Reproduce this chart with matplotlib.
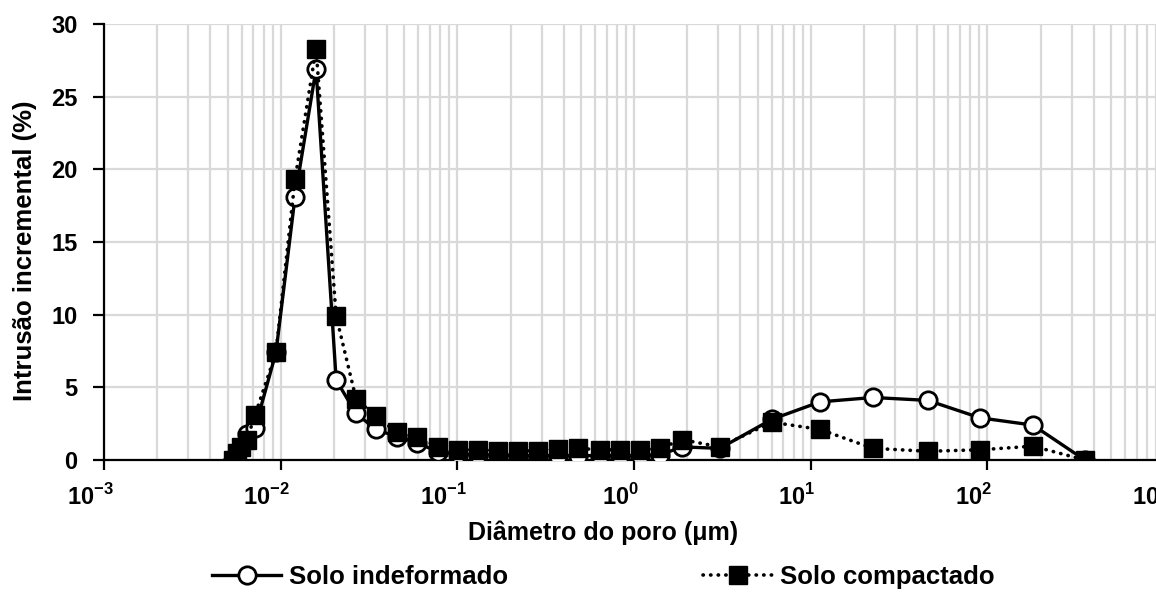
import numpy as np
import matplotlib
matplotlib.use("Agg")
import matplotlib.pyplot as plt
import matplotlib.transforms as mtransforms
from matplotlib.ticker import LogLocator, FixedLocator, NullFormatter

plt.rcParams['font.family'] = ['Liberation Sans', 'DejaVu Sans']
plt.rcParams['font.weight'] = 'bold'
plt.rcParams['mathtext.fontset'] = 'custom'
plt.rcParams['mathtext.rm'] = 'Liberation Sans:bold'
plt.rcParams['mathtext.bf'] = 'Liberation Sans:bold'

# pore diameter (um), same pressure steps for both samples
diametro = [0.00537, 0.00566, 0.00596, 0.00644, 0.00716, 0.0094, 0.01205, 0.01585,
            0.0206, 0.0267, 0.0346, 0.0455, 0.059, 0.0776, 0.1007, 0.131, 0.17,
            0.22, 0.286, 0.371, 0.482, 0.641, 0.832, 1.08, 1.40, 1.87, 3.06,
            6.03, 11.3, 22.5, 46.0, 90.8, 181.0, 356.0]

# incremental intrusion (%)
indeformado = [0.0, 0.4, 0.9, 1.8, 2.2, 7.4, 18.1, 26.9,
               5.5, 3.2, 2.1, 1.6, 1.2, 0.55, 0.4, 0.35, 0.35,
               0.3, 0.3, 0.3, 0.3, 0.3, 0.3, 0.3, 0.35, 0.9, 0.8,
               2.8, 4.0, 4.3, 4.1, 2.9, 2.4, 0.0]

compactado = [0.0, 0.5, 0.9, 1.4, 3.1, 7.4, 19.3, 28.3,
              9.9, 4.2, 3.0, 1.9, 1.6, 0.9, 0.7, 0.7, 0.65,
              0.6, 0.65, 0.75, 0.8, 0.7, 0.7, 0.7, 0.8, 1.4, 0.9,
              2.6, 2.1, 0.8, 0.6, 0.7, 0.95, 0.0]

xticks = [1e-3, 1e-2, 1e-1, 1e0, 1e1, 1e2, 1e3]
xticklabels = [r'$10^{-3}$', r'$10^{-2}$', r'$10^{-1}$', r'$10^{0}$',
               r'$10^{1}$', r'$10^{2}$', r'$10^{3}$']

fig = plt.figure(figsize=(11.56, 5.92), dpi=100)
ax = fig.add_axes([0.090, 0.223, 0.917, 0.7365])

ax.plot(diametro, indeformado, color='black', lw=2.4, marker='o', ms=12.5,
        mfc='white', mec='black', mew=2, label='Solo indeformado', zorder=3)
ax.plot(diametro, compactado, color='black', lw=2.6, ls=(0, (0.1, 2.0)),
        dash_capstyle='round', marker='s', ms=12.5, mfc='black', mec='black',
        label='Solo compactado', zorder=4)

ax.set_xscale('log')
ax.set_xlim(1e-3, 1e3)
ax.set_ylim(0, 30)
ax.set_yticks(np.arange(0, 31, 5))

ax.xaxis.set_major_locator(FixedLocator(xticks))
ax.set_xticklabels(xticklabels)
ax.xaxis.set_minor_locator(LogLocator(base=10, subs=np.arange(2, 10), numticks=20))
ax.xaxis.set_minor_formatter(NullFormatter())

ax.grid(True, which='both', axis='x', color='#d9d9d9', lw=1.6)
ax.grid(True, which='major', axis='y', color='#d9d9d9', lw=1.6)
ax.set_axisbelow(True)

for s in ['top', 'right']:
    ax.spines[s].set_visible(False)
ax.spines['left'].set_linewidth(1.6)
ax.spines['bottom'].set_linewidth(1.6)

ax.tick_params(axis='y', which='major', direction='out', length=8, width=1.6,
               labelsize=17, pad=11)
ax.tick_params(axis='x', which='major', direction='out', length=7, width=1.6,
               labelsize=17, pad=10)
ax.tick_params(axis='x', which='minor', length=0)

# Excel puts the power labels a bit left of the tick
shift = mtransforms.ScaledTranslation(-14 / 100, 0, fig.dpi_scale_trans)
for lab in ax.get_xticklabels():
    lab.set_transform(lab.get_transform() + shift)

ax.set_xlabel('Diâmetro do poro (μm)', fontsize=18, fontweight='bold')
ax.set_ylabel('Intrusão incremental (%)', fontsize=18.5, fontweight='bold')
ax.xaxis.set_label_coords(0.471, -0.138)
ax.yaxis.set_label_coords(-0.063, 0.48)

leg = fig.legend(loc='center', bbox_to_anchor=(0.522, 0.025), ncol=2, frameon=False,
                 fontsize=18.5, handlelength=2.7, handletextpad=0.3,
                 columnspacing=7.6, numpoints=1)

fig.savefig('out.png', dpi=100)
